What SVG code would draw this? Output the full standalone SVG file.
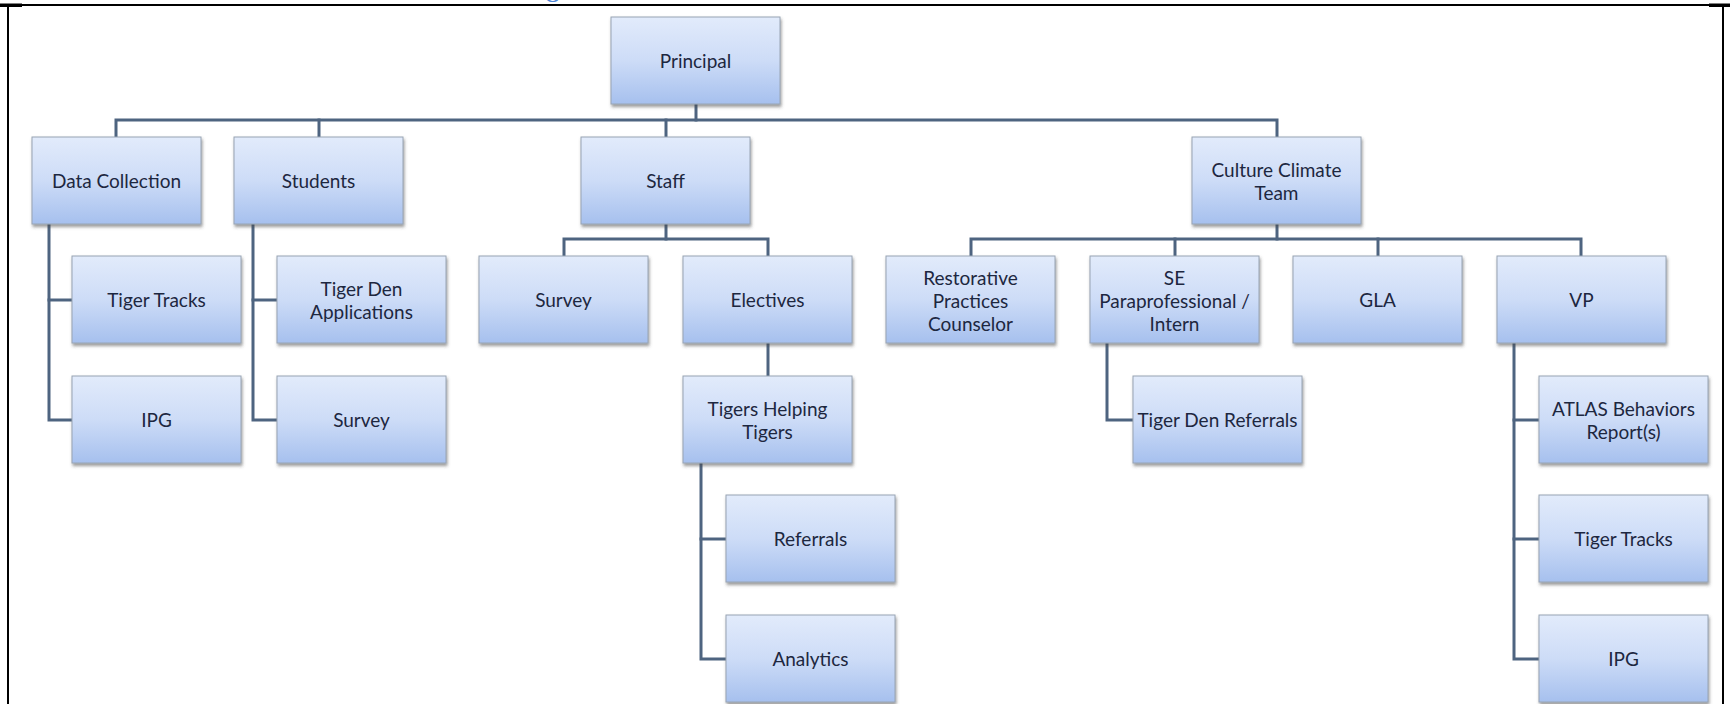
<svg xmlns="http://www.w3.org/2000/svg" width="1730" height="704" viewBox="0 0 1730 704">
  <defs>
    <linearGradient id="boxGrad" x1="0" y1="0" x2="0" y2="1">
      <stop offset="0" stop-color="#e2ebfb"/>
      <stop offset="0.5" stop-color="#cddcf7"/>
      <stop offset="1" stop-color="#a6c0ee"/>
    </linearGradient>
    <filter id="shadow" x="-10%" y="-10%" width="125%" height="130%">
      <feDropShadow dx="1" dy="2.5" stdDeviation="1.5" flood-color="#4a4a4a" flood-opacity="0.55"/>
    </filter>
  </defs>
  <style>
    .box { fill: url(#boxGrad); stroke: #98a4b4; stroke-width: 1; filter: url(#shadow); }
    .lbl { font-family: Lato, "Open Sans", "Liberation Sans", sans-serif; font-size: 19px; fill: #1d2740; text-anchor: middle; }
    .conn { stroke: #4e6480; stroke-width: 3; fill: none; stroke-linecap: square; }
    .frame { stroke: #000; stroke-width: 2; fill: none; }
    .title { font-family: Cambria, "Liberation Serif", "DejaVu Serif", serif; font-size: 28px; fill: #4f86d6; }
  </style>
  <rect x="0" y="0" width="1730" height="704" fill="#ffffff"/>

  <g id="title">
    <text class="title" x="546" y="-4">g</text>
    <text class="title" x="1066" y="-4">(</text>
    <text class="title" x="1160" y="-4">)</text>
  </g>

  <g id="frame">
    <line class="frame" x1="0" y1="5" x2="1730" y2="5"/>
    <rect x="0" y="3.5" width="22" height="3.5" fill="#000"/>
    <rect x="1709" y="3.5" width="21" height="3.5" fill="#000"/>
    <line class="frame" x1="8" y1="5" x2="8" y2="704"/>
    <line class="frame" x1="1723" y1="5" x2="1723" y2="704"/>
  </g>

  <g id="connectors">
    <path class="conn" d="M696 104 V120"/>
    <path class="conn" d="M116 137 V120 H1277 V137"/>
    <path class="conn" d="M319 120 V137"/>
    <path class="conn" d="M666 120 V137"/>
    <path class="conn" d="M49 224 V420 H72"/>
    <path class="conn" d="M49 300 H72"/>
    <path class="conn" d="M253 224 V420 H277"/>
    <path class="conn" d="M253 300 H277"/>
    <path class="conn" d="M666 224 V239"/>
    <path class="conn" d="M564 256 V239 H768 V256"/>
    <path class="conn" d="M768 343 V376"/>
    <path class="conn" d="M701 463 V659 H726"/>
    <path class="conn" d="M701 539 H726"/>
    <path class="conn" d="M1277 224 V239"/>
    <path class="conn" d="M971 256 V239 H1581 V256"/>
    <path class="conn" d="M1175 239 V256"/>
    <path class="conn" d="M1378 239 V256"/>
    <path class="conn" d="M1107 343 V420 H1133"/>
    <path class="conn" d="M1514 343 V659 H1539"/>
    <path class="conn" d="M1514 420 H1539"/>
    <path class="conn" d="M1514 539 H1539"/>
  </g>

  <g id="principal"><rect class="box" x="611" y="17" width="169" height="87"/><text class="lbl" x="695.5" y="68">Principal</text></g>

  <g id="data-collection"><rect class="box" x="32" y="137" width="169" height="87"/><text class="lbl" x="116.5" y="188">Data Collection</text></g>
  <g id="students"><rect class="box" x="234" y="137" width="169" height="87"/><text class="lbl" x="318.5" y="188">Students</text></g>
  <g id="staff"><rect class="box" x="581" y="137" width="169" height="87"/><text class="lbl" x="665.5" y="188">Staff</text></g>
  <g id="culture-climate-team"><rect class="box" x="1192" y="137" width="169" height="87"/><text class="lbl" x="1276.5" y="177">Culture Climate</text><text class="lbl" x="1276.5" y="200">Team</text></g>

  <g id="dc-tiger-tracks"><rect class="box" x="72" y="256" width="169" height="87"/><text class="lbl" x="156.5" y="307">Tiger Tracks</text></g>
  <g id="dc-ipg"><rect class="box" x="72" y="376" width="169" height="87"/><text class="lbl" x="156.5" y="427">IPG</text></g>

  <g id="tiger-den-applications"><rect class="box" x="277" y="256" width="169" height="87"/><text class="lbl" x="361.5" y="296">Tiger Den</text><text class="lbl" x="361.5" y="319">Applications</text></g>
  <g id="students-survey"><rect class="box" x="277" y="376" width="169" height="87"/><text class="lbl" x="361.5" y="427">Survey</text></g>

  <g id="staff-survey"><rect class="box" x="479" y="256" width="169" height="87"/><text class="lbl" x="563.5" y="307">Survey</text></g>
  <g id="electives"><rect class="box" x="683" y="256" width="169" height="87"/><text class="lbl" x="767.5" y="307">Electives</text></g>
  <g id="tigers-helping-tigers"><rect class="box" x="683" y="376" width="169" height="87"/><text class="lbl" x="767.5" y="416">Tigers Helping</text><text class="lbl" x="767.5" y="439">Tigers</text></g>
  <g id="referrals"><rect class="box" x="726" y="495" width="169" height="87"/><text class="lbl" x="810.5" y="546">Referrals</text></g>
  <g id="analytics"><rect class="box" x="726" y="615" width="169" height="87"/><text class="lbl" x="810.5" y="666">Analytics</text></g>

  <g id="restorative-practices-counselor"><rect class="box" x="886" y="256" width="169" height="87"/><text class="lbl" x="970.5" y="285">Restorative</text><text class="lbl" x="970.5" y="308">Practices</text><text class="lbl" x="970.5" y="331">Counselor</text></g>
  <g id="se-paraprofessional-intern"><rect class="box" x="1090" y="256" width="169" height="87"/><text class="lbl" x="1174.5" y="285">SE</text><text class="lbl" x="1174.5" y="308">Paraprofessional /</text><text class="lbl" x="1174.5" y="331">Intern</text></g>
  <g id="gla"><rect class="box" x="1293" y="256" width="169" height="87"/><text class="lbl" x="1377.5" y="307">GLA</text></g>
  <g id="vp"><rect class="box" x="1497" y="256" width="169" height="87"/><text class="lbl" x="1581.5" y="307">VP</text></g>

  <g id="tiger-den-referrals"><rect class="box" x="1133" y="376" width="169" height="87"/><text class="lbl" x="1217.5" y="427">Tiger Den Referrals</text></g>

  <g id="atlas-behaviors-reports"><rect class="box" x="1539" y="376" width="169" height="87"/><text class="lbl" x="1623.5" y="416">ATLAS Behaviors</text><text class="lbl" x="1623.5" y="439">Report(s)</text></g>
  <g id="vp-tiger-tracks"><rect class="box" x="1539" y="495" width="169" height="87"/><text class="lbl" x="1623.5" y="546">Tiger Tracks</text></g>
  <g id="vp-ipg"><rect class="box" x="1539" y="615" width="169" height="87"/><text class="lbl" x="1623.5" y="666">IPG</text></g>
</svg>
